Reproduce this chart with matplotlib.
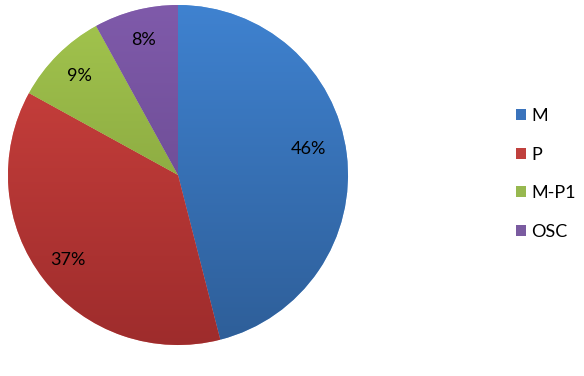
import matplotlib
matplotlib.use("Agg")
import matplotlib.pyplot as plt
import numpy as np
from matplotlib.colors import to_rgb
from matplotlib.patches import Patch

categories = ["M", "P", "M-P1", "OSC"]
values = [46, 37, 9, 8]
top_colors = ["#3F82D0", "#D0433F", "#A3C54E", "#7F5AAA"]
bottom_colors = ["#2E5E98", "#9E2C2C", "#7A9638", "#614487"]
legend_colors = ["#3A73BC", "#C0403D", "#97B84F", "#7A5BA0"]

plt.rcParams['font.family'] = ['Lato', 'DejaVu Sans']

W, H = 584, 376
fig = plt.figure(figsize=(W / 100, H / 100), dpi=100)
cx, cy, r = 178, 175, 170
ax = fig.add_axes([(cx - r) / W, (H - cy - r) / H, 2 * r / W, 2 * r / H])

wedges, texts, autotexts = ax.pie(
    values, colors=top_colors, startangle=90, counterclock=False,
    autopct='%1.0f%%', pctdistance=0.82, radius=1.0,
    wedgeprops=dict(linewidth=0.4, edgecolor=(1, 1, 1, 0.5)),
    textprops=dict(fontsize=13, color='black'))

# nudge the largest label slightly inward/up like the reference placement
x0, y0 = autotexts[0].get_position()
autotexts[0].set_position((x0 * 0.94, y0 + 0.05))

n = 256
t = np.linspace(0, 1, n)[:, None]
for w, ct, cb in zip(wedges, top_colors, bottom_colors):
    a = np.array(to_rgb(ct)); b = np.array(to_rgb(cb))
    img = (a[None, None, :] * (1 - t[:, :, None]) + b[None, None, :] * t[:, :, None])
    img = np.repeat(img, 2, axis=1)
    im = ax.imshow(img, extent=[-1, 1, -1, 1], origin='upper', zorder=w.get_zorder() + 0.1,
                   aspect='auto', interpolation='bilinear')
    im.set_clip_path(w)
for at in autotexts:
    at.set_zorder(10)

ax.set_xlim(-1, 1)
ax.set_ylim(-1, 1)
ax.set_aspect('equal')
ax.axis('off')

handles = [Patch(facecolor=c, edgecolor='none') for c in legend_colors]
fig.legend(handles, categories, loc='center left', bbox_to_anchor=(500 / W, 1 - 174 / H),
           frameon=False, fontsize=13, handlelength=0.55, handleheight=0.55,
           handletextpad=0.3, labelspacing=1.25)

fig.savefig("out.png", dpi=100)
